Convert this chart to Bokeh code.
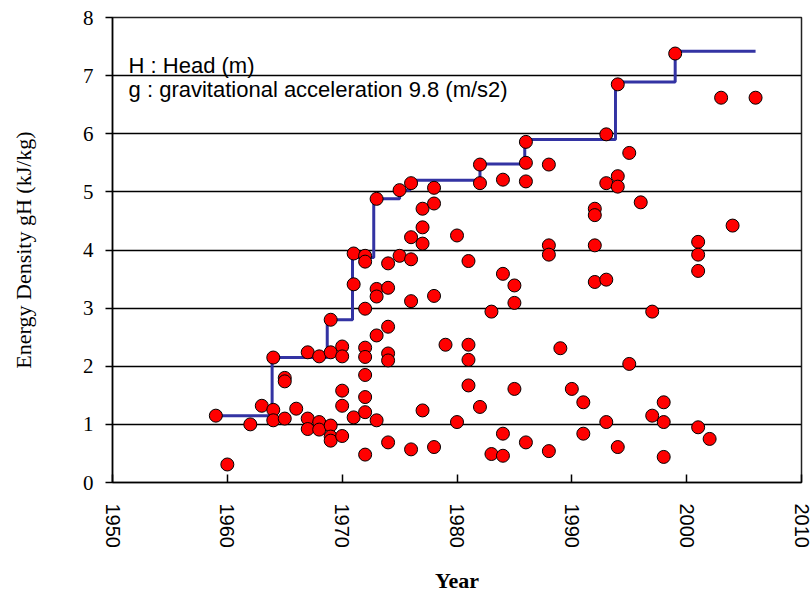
from bokeh.plotting import figure
from bokeh.models import Range1d, FixedTicker
from bokeh.core.properties import value
from bokeh.embed import file_html
from bokeh.resources import INLINE

# ---- data -------------------------------------------------------------
years = [1959, 1960, 1962, 1963, 1964, 1964, 1964, 1965, 1965, 1965, 1966,
         1967, 1967, 1967, 1968, 1968, 1968, 1969, 1969, 1969, 1969, 1969,
         1970, 1970, 1970, 1970, 1970, 1971, 1971, 1971,
         1972, 1972, 1972, 1972, 1972, 1972, 1972, 1972, 1972,
         1973, 1973, 1973, 1973, 1973, 1974, 1974, 1974, 1974, 1974, 1974,
         1975, 1975, 1976, 1976, 1976, 1976, 1976, 1977, 1977, 1977, 1977,
         1978, 1978, 1978, 1978, 1979, 1980, 1980, 1981, 1981, 1981, 1981,
         1982, 1982, 1982, 1983, 1983, 1984, 1984, 1984, 1984,
         1985, 1985, 1985, 1986, 1986, 1986, 1986, 1988, 1988, 1988, 1988,
         1989, 1990, 1991, 1991, 1992, 1992, 1992, 1992,
         1993, 1993, 1993, 1993, 1994, 1994, 1994, 1994, 1995, 1995, 1996,
         1997, 1997, 1998, 1998, 1998, 1999, 2001, 2001, 2001, 2001, 2002,
         2003, 2004, 2006]
energy = [1.15, 0.31, 1.00, 1.32, 2.15, 1.25, 1.07, 1.80, 1.74, 1.10, 1.27,
          2.24, 1.10, 0.92, 2.17, 1.04, 0.91, 2.80, 2.24, 0.98, 0.79, 0.72,
          2.34, 2.17, 1.58, 1.32, 0.80, 3.94, 3.41, 1.12,
          3.90, 3.80, 2.99, 2.32, 2.16, 1.85, 1.47, 1.21, 0.48,
          4.88, 3.33, 3.20, 2.53, 1.07, 3.77, 3.35, 2.68, 2.22, 2.10, 0.69,
          5.03, 3.90, 5.15, 4.22, 3.84, 3.12, 0.57, 4.71, 4.39, 4.11, 1.24,
          5.07, 4.80, 3.21, 0.61, 2.37, 4.25, 1.04, 3.81, 2.37, 2.11, 1.67,
          5.47, 5.15, 1.30, 2.94, 0.49, 5.21, 3.59, 0.84, 0.46,
          3.39, 3.09, 1.61, 5.86, 5.50, 5.18, 0.69, 5.47, 4.08, 3.92, 0.54,
          2.31, 1.61, 1.38, 0.84, 4.71, 4.60, 4.08, 3.45,
          5.99, 5.15, 3.49, 1.04, 6.85, 5.27, 5.09, 0.61, 5.67, 2.04, 4.82,
          2.94, 1.15, 1.38, 1.04, 0.44, 7.38, 4.14, 3.92, 3.64, 0.95, 0.75,
          6.62, 4.42, 6.62]

# record (envelope) step line
record_years = [1959, 1963.9, 1968.7, 1970.9, 1972.75, 1975.0, 1975.9,
                1982.0, 1985.9, 1993.8, 1999.0, 2006.0]
record_values = [1.15, 2.15, 2.80, 3.87, 4.88, 5.03, 5.20,
                 5.48, 5.90, 6.89, 7.42, 7.42]

x_ticks = [1950, 1960, 1970, 1980, 1990, 2000, 2010]
y_ticks = [0, 1, 2, 3, 4, 5, 6, 7, 8]

note_lines = ["H : Head (m)", "g : gravitational acceleration 9.8 (m/s2)"]

# ---- figure -----------------------------------------------------------
p = figure(width=811, height=595,
           x_range=Range1d(1950, 2010), y_range=Range1d(0, 8),
           output_backend="svg", toolbar_location=None,
           min_border_left=112, min_border_right=10,
           min_border_top=17, min_border_bottom=113,
           background_fill_color="white", border_fill_color="white")

p.outline_line_color = "#222222"
p.outline_line_width = 1.5

p.xgrid.grid_line_color = None
p.ygrid.grid_line_color = "black"
p.ygrid.grid_line_width = 1.5
p.ygrid.ticker = FixedTicker(ticks=y_ticks)

p.xaxis.ticker = FixedTicker(ticks=x_ticks)
p.yaxis.ticker = FixedTicker(ticks=y_ticks)

for ax in (p.xaxis[0], p.yaxis[0]):
    ax.axis_line_color = "black"
    ax.axis_line_width = 1.5
    ax.major_tick_line_color = "black"
    ax.major_tick_line_width = 1.5
    ax.minor_tick_line_color = None
    ax.major_label_text_color = "black"
    ax.axis_label_text_color = "black"

p.xaxis.major_tick_in = 8
p.xaxis.major_tick_out = 0
p.xaxis.major_label_orientation = "vertical"
p.xaxis.major_label_standoff = 21
p.xaxis.major_label_text_font = "Liberation Sans"
p.xaxis.major_label_text_font_size = "20px"
p.xaxis.axis_label = "Year"
p.xaxis.axis_label_text_font = "Liberation Serif"
p.xaxis.axis_label_text_font_style = "bold"
p.xaxis.axis_label_text_font_size = "22px"
p.xaxis.axis_label_standoff = 17

p.yaxis.major_tick_in = 0
p.yaxis.major_tick_out = 7
p.yaxis.major_label_standoff = 12
p.yaxis.major_label_text_font = "Liberation Serif"
p.yaxis.major_label_text_font_size = "21px"
p.yaxis.axis_label = "Energy Density gH (kJ/kg)"
p.yaxis.axis_label_text_font = "Liberation Serif"
p.yaxis.axis_label_text_font_style = "normal"
p.yaxis.axis_label_text_font_size = "22px"
p.yaxis.axis_label_standoff = 44

# record step line
p.step(record_years, record_values, mode="after",
       line_color="#3333A3", line_width=3)

# data points
p.scatter(years, energy, size=13, marker="circle",
          fill_color="#FF0000", line_color="black", line_width=1)

# notes
p.text(x=[1951.4, 1951.4], y=[7.18, 6.76], text=note_lines,
       text_font=value("Liberation Sans"), text_font_size="22px",
       text_color="black", text_align="left", text_baseline="alphabetic")

open("out.html", "w").write(file_html(p, INLINE))
